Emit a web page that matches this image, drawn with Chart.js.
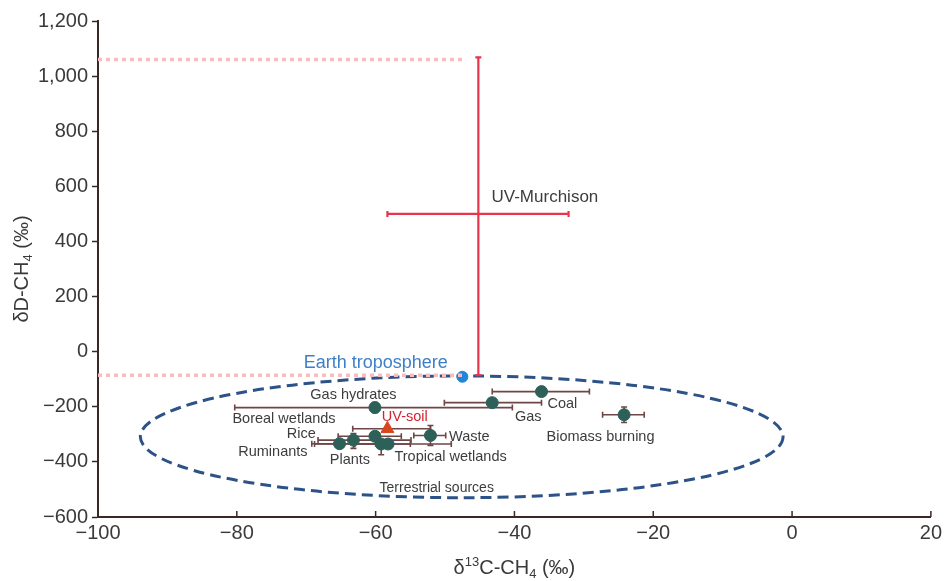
<!DOCTYPE html>
<html>
<head>
<meta charset="utf-8">
<script src="https://cdn.jsdelivr.net/npm/chart.js@4.4.1/dist/chart.umd.min.js"></script>
<style>
  html, body { margin: 0; padding: 0; background: #ffffff; }
  #wrap { width: 946px; height: 581px; }
</style>
</head>
<body>
<div id="wrap"><canvas id="c" width="946" height="581"></canvas></div>
<script>
// ---- Methane source signatures: δ13C-CH4 and δD-CH4 (‰) ----
const sourceNames   = ['Gas hydrates', 'Gas', 'Coal', 'Biomass burning', 'Ruminants', 'Rice',
                       'Boreal wetlands', 'Plants', 'Tropical wetlands', 'Waste'];
const sourceD13C    = [-60.1, -43.2, -36.1, -24.2, -65.2, -63.2, -60.1, -59.2, -58.2, -52.1];
const sourceDD      = [-203, -185, -145, -229, -334, -321, -307, -335, -335, -304];
const sourceD13CLow = [-80.3, -50.1, -43.2, -27.3, -69.2, -68.3, -65.4, -63.0, -68.8, -54.5];
const sourceD13CHigh= [-40.3, -36.1, -29.2, -21.3, -60.0, -54.9, -56.3, -55.0, -49.1, -49.9];
const sourceDDLow   = [-221, -185, -145, -257, -334, -351, -307, -374, -335, -340];
const sourceDDHigh  = [-185, -185, -145, -201, -334, -297, -307, -335, -335, -268];

// UV-irradiated soil
const uvSoilD13C = [-58.3];
const uvSoilDD   = [-280];
const uvSoilD13CLow  = [-63.3];
const uvSoilD13CHigh = [-52.1];

// Earth troposphere
const tropoD13C = [-47.5];
const tropoDD   = [-91];

// UV-Murchison (range of δ13C and δD)
const murchD13C = [-45.2];
const murchDD   = [500];
const murchD13CLow  = [-58.3];
const murchD13CHigh = [-32.2];
const murchDDLow    = [-85];
const murchDDHigh   = [1068];

// Guide lines marking the UV-Murchison δD limits
const guideD13C  = [-100, -47];
const guideTopDD = [1060, 1060];
const guideLowDD = [-86, -86];

// Terrestrial sources envelope: centre and half-widths
const envelopeCenter = [-47.6, -309];
const envelopeHalf   = [46.3, 221];

// Axis ranges and tick steps
const xRange = [-100, 20], xStep = 20;
const yRange = [-600, 1200], yStep = 200;

// ---- Text annotations (data coordinates) ----
const annotations = [
  { text: 'UV-Murchison',       x: -43.3, y: 559,  align: 'left',   size: 17,   color: '#3d3d3d' },
  { text: 'Earth troposphere',  x: -49.6, y: -40,  align: 'right',  size: 18,   color: '#3f7fc6' },
  { text: 'Gas hydrates',       x: -63.2, y: -156, align: 'center', size: 14.5, color: '#3d3d3d' },
  { text: 'Boreal wetlands',    x: -73.2, y: -244, align: 'center', size: 14.5, color: '#3d3d3d' },
  { text: 'UV-soil',            x: -55.8, y: -238, align: 'center', size: 14.5, color: '#d3232f' },
  { text: 'Rice',               x: -70.7, y: -298, align: 'center', size: 14.5, color: '#3d3d3d' },
  { text: 'Ruminants',          x: -74.8, y: -363, align: 'center', size: 14.5, color: '#3d3d3d' },
  { text: 'Plants',             x: -63.7, y: -392, align: 'center', size: 14.5, color: '#3d3d3d' },
  { text: 'Tropical wetlands',  x: -49.2, y: -381, align: 'center', size: 14.5, color: '#3d3d3d' },
  { text: 'Waste',              x: -46.5, y: -309, align: 'center', size: 14.5, color: '#3d3d3d' },
  { text: 'Gas',                x: -38.0, y: -236, align: 'center', size: 14.5, color: '#3d3d3d' },
  { text: 'Coal',               x: -33.1, y: -189, align: 'center', size: 14.5, color: '#3d3d3d' },
  { text: 'Biomass burning',    x: -27.6, y: -309, align: 'center', size: 14.5, color: '#3d3d3d' },
  { text: 'Terrestrial sources',x: -51.2, y: -494, align: 'center', size: 14,   color: '#3d3d3d' }
];

const FONT = '"Liberation Sans", Arial, Helvetica, sans-serif';
const AXIS_COLOR = '#3a2828';
const TEXT_COLOR = '#3a3a3a';

const toPts = (xs, ys) => xs.map((x, i) => ({ x, y: ys[i] }));
const fmtTick = v => {
  const s = Math.abs(v).toLocaleString('en-US');
  return v < 0 ? '\u2212' + s : s;
};

// Error bars drawn through the chart scales
function drawErrorBars(ctx, xs, ys, xLo, xHi, yLo, yHi, color, width, cap) {
  const chart = ctx.chart;
  const xs_ = chart.scales.x, ys_ = chart.scales.y;
  const c = ctx.ctx;
  c.save();
  c.strokeStyle = color;
  c.lineWidth = width;
  for (let i = 0; i < xs.length; i++) {
    const py = ys_.getPixelForValue(ys[i]);
    const px = xs_.getPixelForValue(xs[i]);
    if (xLo && xHi[i] !== xLo[i]) {
      const a = xs_.getPixelForValue(xLo[i]), b = xs_.getPixelForValue(xHi[i]);
      c.beginPath();
      c.moveTo(a, py); c.lineTo(b, py);
      c.moveTo(a, py - cap); c.lineTo(a, py + cap);
      c.moveTo(b, py - cap); c.lineTo(b, py + cap);
      c.stroke();
    }
    if (yLo && yHi[i] !== yLo[i]) {
      const a = ys_.getPixelForValue(yLo[i]), b = ys_.getPixelForValue(yHi[i]);
      c.beginPath();
      c.moveTo(px, a); c.lineTo(px, b);
      c.moveTo(px - cap, a); c.lineTo(px + cap, a);
      c.moveTo(px - cap, b); c.lineTo(px + cap, b);
      c.stroke();
    }
  }
  c.restore();
}

const underlayPlugin = {
  id: 'underlay',
  beforeDatasetsDraw(chart) {
    const c = chart.ctx;
    const sx = chart.scales.x, sy = chart.scales.y;
    const api = { chart, ctx: c };

    // Terrestrial sources envelope
    const cx = sx.getPixelForValue(envelopeCenter[0]);
    const cy = sy.getPixelForValue(envelopeCenter[1]);
    const rx = sx.getPixelForValue(envelopeCenter[0] + envelopeHalf[0]) - cx;
    const ry = cy - sy.getPixelForValue(envelopeCenter[1] + envelopeHalf[1]);
    c.save();
    c.strokeStyle = '#2d5287';
    c.lineWidth = 3;
    c.setLineDash([11, 6]);
    c.beginPath();
    c.ellipse(cx, cy, rx, ry, 0, 0, Math.PI * 2);
    c.stroke();
    c.restore();

    // UV-Murchison range
    drawErrorBars(api, murchD13C, murchDD, murchD13CLow, murchD13CHigh, murchDDLow, murchDDHigh,
                  '#e8354b', 2.2, 3);
    // Source ranges
    drawErrorBars(api, sourceD13C, sourceDD, sourceD13CLow, sourceD13CHigh, sourceDDLow, sourceDDHigh,
                  '#6f4646', 1.6, 3);
    drawErrorBars(api, uvSoilD13C, uvSoilDD, uvSoilD13CLow, uvSoilD13CHigh, null, null,
                  '#6f4646', 1.6, 3);
  }
};

function drawRich(c, parts, x, y) {
  let w = 0;
  parts.forEach(p => { c.font = p.size + 'px ' + FONT; p.w = c.measureText(p.t).width; w += p.w; });
  let cx = x - w / 2;
  parts.forEach(p => {
    c.font = p.size + 'px ' + FONT;
    c.fillText(p.t, cx, y + (p.dy || 0));
    cx += p.w;
  });
}

const overlayPlugin = {
  id: 'overlay',
  afterDraw(chart) {
    const c = chart.ctx;
    const sx = chart.scales.x, sy = chart.scales.y;
    const area = chart.chartArea;

    // Inward ticks on the x axis
    c.save();
    c.strokeStyle = AXIS_COLOR;
    c.lineWidth = 1.5;
    for (let v = xRange[0]; v <= xRange[1]; v += xStep) {
      const px = sx.getPixelForValue(v);
      c.beginPath();
      c.moveTo(px, area.bottom);
      c.lineTo(px, area.bottom - 6);
      c.stroke();
    }
    c.restore();

    // Annotations
    c.save();
    c.textBaseline = 'middle';
    annotations.forEach(a => {
      c.font = a.size + 'px ' + FONT;
      c.fillStyle = a.color;
      c.textAlign = a.align;
      c.fillText(a.text, sx.getPixelForValue(a.x), sy.getPixelForValue(a.y));
    });
    c.restore();

    // Axis titles with sub/superscripts
    c.save();
    c.fillStyle = TEXT_COLOR;
    c.textAlign = 'left';
    c.textBaseline = 'middle';
    drawRich(c, [
      { t: '\u03B4', size: 20 },
      { t: '13', size: 13, dy: -6 },
      { t: 'C-CH', size: 20 },
      { t: '4', size: 13, dy: 6 },
      { t: ' (\u2030)', size: 20 }
    ], (area.left + area.right) / 2, 568);
    c.translate(22, (area.top + area.bottom) / 2);
    c.rotate(-Math.PI / 2);
    drawRich(c, [
      { t: '\u03B4D-CH', size: 20 },
      { t: '4', size: 13, dy: 6 },
      { t: ' (\u2030)', size: 20 }
    ], 0, 0);
    c.restore();
  }
};

new Chart(document.getElementById('c'), {
  type: 'scatter',
  data: {
    datasets: [
      {
        label: 'UV-Murchison limits (upper)',
        type: 'line',
        data: toPts(guideD13C, guideTopDD),
        borderColor: '#f9bcbe',
        borderWidth: 3.5,
        borderDash: [4, 4],
        pointRadius: 0,
        fill: false
      },
      {
        label: 'UV-Murchison limits (lower)',
        type: 'line',
        data: toPts(guideD13C, guideLowDD),
        borderColor: '#f9bcbe',
        borderWidth: 3.5,
        borderDash: [4, 4],
        pointRadius: 0,
        fill: false
      },
      {
        label: 'UV-Murchison',
        data: toPts(murchD13C, murchDD),
        pointRadius: 0
      },
      {
        label: 'Sources',
        data: toPts(sourceD13C, sourceDD),
        backgroundColor: '#2d6058',
        borderColor: '#2d6058',
        pointRadius: 6,
        pointHoverRadius: 6
      },
      {
        label: 'UV-soil',
        data: toPts(uvSoilD13C, uvSoilDD),
        pointStyle: 'triangle',
        backgroundColor: '#d8461b',
        borderColor: '#d8461b',
        pointRadius: 7.5
      },
      {
        label: 'Earth troposphere',
        data: toPts(tropoD13C, tropoDD),
        backgroundColor: '#1f87d6',
        borderColor: '#1f87d6',
        pointRadius: 5.5
      }
    ]
  },
  options: {
    responsive: false,
    animation: false,
    devicePixelRatio: 1,
    layout: { padding: { left: 0, right: 14, top: 21, bottom: 0 } },
    plugins: { legend: { display: false }, tooltip: { enabled: false } },
    scales: {
      x: {
        type: 'linear',
        min: xRange[0], max: xRange[1],
        afterFit: s => { s.height = 64; },
        border: { display: true, color: AXIS_COLOR, width: 2 },
        grid: { display: true, drawOnChartArea: false, drawTicks: false },
        ticks: {
          stepSize: xStep,
          padding: 4,
          color: TEXT_COLOR,
          font: { family: FONT, size: 20 },
          callback: v => fmtTick(v)
        }
      },
      y: {
        type: 'linear',
        min: yRange[0], max: yRange[1],
        afterFit: s => { s.width = 98; },
        border: { display: true, color: AXIS_COLOR, width: 2 },
        grid: { display: true, drawOnChartArea: false, drawTicks: true, tickLength: 6, color: AXIS_COLOR, tickWidth: 1.5 },
        ticks: {
          stepSize: yStep,
          padding: 4,
          color: TEXT_COLOR,
          font: { family: FONT, size: 20 },
          callback: v => fmtTick(v)
        }
      }
    }
  },
  plugins: [underlayPlugin, overlayPlugin]
});
</script>
</body>
</html>
